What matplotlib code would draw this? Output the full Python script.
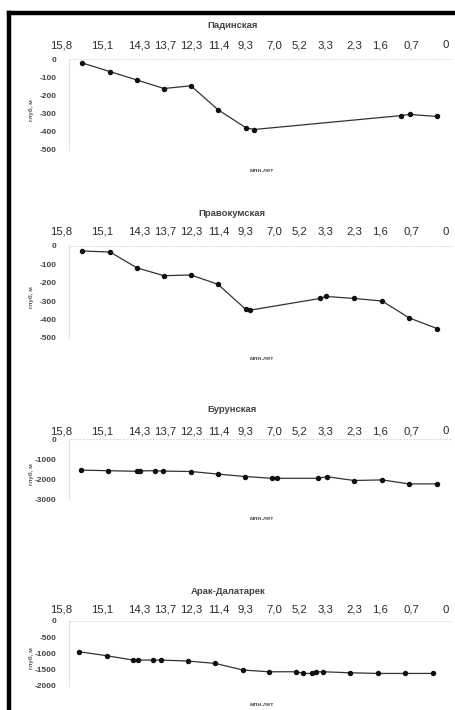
import matplotlib
matplotlib.use("Agg")
import matplotlib.pyplot as plt
from matplotlib.lines import Line2D

plt.rcParams['font.family'] = ['Liberation Sans', 'DejaVu Sans']

# ---- data ----
age_labels = ["15,8", "15,1", "14,3", "13,7", "12,3", "11,4", "9,3", "7,0",
              "5,2", "3,3", "2,3", "1,6", "0,7", "0"]
age_label_pos = [-0.77, 0.75, 2.1, 3.05, 4.0, 5.0, 6.0, 7.03, 7.95, 8.9,
                 9.96, 10.9, 12.05, 13.33]

titles = ["Падинская", "Правокумская", "Бурунская", "Арак-Далатарек"]

pad_x = [0, 1.03, 2.01, 3.0, 3.99, 4.98, 6.0, 6.3, 11.7, 12.0, 13.0]
pad_y = [-20, -68, -114, -161, -146, -278, -377, -387, -310, -304, -315]

prav_x = [0, 1.03, 2.01, 3.0, 3.99, 4.98, 6.0, 6.15, 8.72, 8.94, 9.96, 10.99, 11.98, 13.0]
prav_y = [-27, -33, -119, -162, -158, -209, -346, -350, -286, -275, -286, -300, -392, -450]

bur_x = [-0.04, 0.95, 2.01, 2.12, 2.67, 2.97, 3.99, 4.98, 5.97, 6.96, 7.14,
         8.64, 8.97, 9.96, 10.99, 11.98, 13.0]
bur_y = [-1540, -1570, -1600, -1580, -1570, -1590, -1610, -1740, -1860, -1950,
         -1950, -1950, -1870, -2060, -2030, -2230, -2230]

arak_x = [-0.11, 0.92, 1.87, 2.05, 2.6, 2.89, 3.88, 4.87, 5.9, 6.85, 7.84,
          8.1, 8.42, 8.57, 8.83, 9.82, 10.84, 11.83, 12.86]
arak_y = [-950, -1074, -1206, -1206, -1206, -1206, -1236, -1307, -1512, -1564,
          -1564, -1615, -1615, -1570, -1564, -1595, -1615, -1615, -1615]

yticks_list = [
    [0, -100, -200, -300, -400, -500],
    [0, -100, -200, -300, -400, -500],
    [0, -1000, -2000, -3000],
    [0, -500, -1000, -1500, -2000],
]
ylims = [(-500, 0), (-500, 0), (-3000, 0), (-2000, 0)]
series = [(pad_x, pad_y), (prav_x, prav_y), (bur_x, bur_y), (arak_x, arak_y)]

# ---- layout (pixel geometry of each panel) ----
W, H = 456, 710
fig = plt.figure(figsize=(W / 100, H / 100), dpi=100)

ax_left, ax_right = 69, 452
panel_top = [59.3, 246, 439.3, 620.7]
panel_bot = [150, 337.7, 499.3, 686]
title_y = [25, 213, 410, 592]
label_y = [45, 232, 431, 610]
xlabel_y = [170, 358, 518, 704]
title_x = [233, 232, 232, 228]

for i in range(4):
    ax = fig.add_axes([ax_left / W, 1 - panel_bot[i] / H,
                       (ax_right - ax_left) / W,
                       (panel_bot[i] - panel_top[i]) / H])
    x, y = series[i]
    ax.plot(x, y, color='#333333', lw=0.9, marker='o', ms=2.9,
            mfc='#111111', mec='#111111', zorder=3)
    ax.set_xlim(-0.476, 13.55)
    ax.set_ylim(*ylims[i])
    ax.set_yticks(yticks_list[i])
    ax.set_yticklabels([str(v) for v in yticks_list[i]], fontsize=6,
                       color='#444444', fontweight='bold')
    ax.tick_params(axis='y', length=0, pad=9)
    ax.set_xticks([])
    for s in ['top', 'right', 'bottom']:
        ax.spines[s].set_visible(False)
    ax.spines['left'].set_color('#e2e2e2')
    ax.spines['left'].set_linewidth(0.8)
    ax.axhline(0, color='#dddddd', lw=0.8, ls=(0, (2, 1)), zorder=1)
    ax.set_facecolor('none')

    # top age labels
    for lab, pos in zip(age_labels, age_label_pos):
        xf = ax.transData.transform((pos, 0))[0]
        fig.text(xf / W, 1 - label_y[i] / H, lab, fontsize=8.2, color='#2a2a2a',
                 ha='center', va='center')
    fig.text(title_x[i] / W, 1 - title_y[i] / H, titles[i], fontsize=6.8,
             color='#444444', ha='center', va='center', fontweight='bold')
    fig.text(262 / W, 1 - xlabel_y[i] / H, "млн.лет", fontsize=4.5,
             color='#555555', ha='center', va='center', fontweight='bold')
    yc = (panel_top[i] + panel_bot[i]) / 2 + 5
    fig.text(31 / W, 1 - yc / H, "глуб, м", fontsize=4.5, color='#555555',
             ha='center', va='center', rotation=90, fontweight='bold')

# black frame (top and left)
fig.add_artist(Line2D([9 / W, 1], [1 - 13 / H, 1 - 13 / H], color='black',
                      lw=3.2, transform=fig.transFigure))
fig.add_artist(Line2D([9 / W, 9 / W], [0, 1 - 13 / H], color='black',
                      lw=3.2, transform=fig.transFigure))

fig.savefig("out.png", dpi=100, facecolor='white')
